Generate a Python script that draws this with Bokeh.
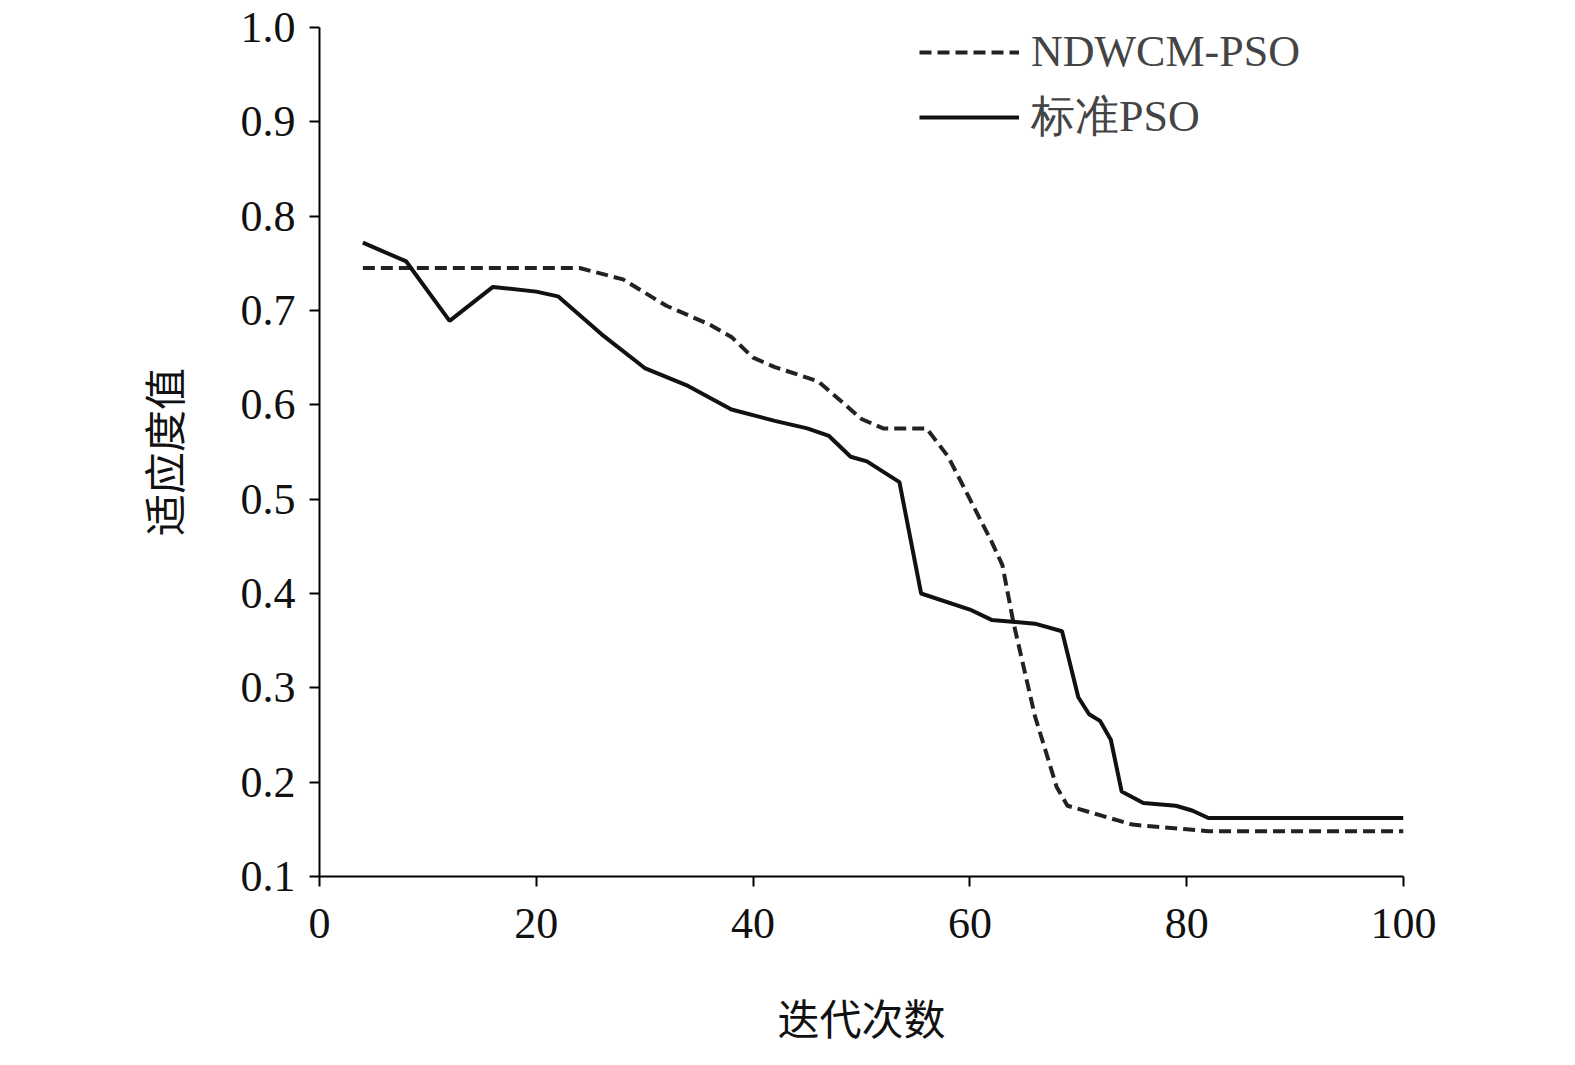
from bokeh.plotting import figure
from bokeh.embed import file_html
from bokeh.resources import INLINE
from bokeh.models import Range1d, FixedTicker, Legend, LegendItem

x_std = [4, 8, 12, 16, 20, 22, 26, 30, 34, 38, 42, 45, 47, 49, 50.5, 53.5, 55.5, 60, 62, 66, 68.5, 70, 71, 72, 73, 74, 76, 79, 80.5, 82, 100]
y_std = [0.772, 0.752, 0.689, 0.725, 0.72, 0.715, 0.675, 0.639, 0.62, 0.595, 0.583, 0.575, 0.567, 0.545, 0.54, 0.518, 0.40, 0.383, 0.372, 0.368, 0.36, 0.29, 0.272, 0.265, 0.245, 0.19, 0.178, 0.175, 0.17, 0.162, 0.162]
x_nd = [4, 24, 28, 32, 36, 38, 40, 42, 46, 50, 52, 56, 58, 60, 62, 63, 64, 66, 68, 69, 72, 75, 80, 82, 100]
y_nd = [0.745, 0.745, 0.733, 0.705, 0.685, 0.672, 0.65, 0.64, 0.625, 0.585, 0.575, 0.575, 0.545, 0.5, 0.455, 0.43, 0.37, 0.27, 0.195, 0.175, 0.165, 0.155, 0.15, 0.148, 0.148]
x_ticks = [0, 20, 40, 60, 80, 100]
y_ticks = [0.1, 0.2, 0.3, 0.4, 0.5, 0.6, 0.7, 0.8, 0.9, 1.0]

p = figure(width=1559, height=1049, output_backend="svg", toolbar_location=None,
           x_range=Range1d(0, 100), y_range=Range1d(0.1, 1.0),
           min_border_left=319, min_border_right=156, min_border_top=27, min_border_bottom=149)
p.outline_line_color = None
p.grid.grid_line_color = None
p.background_fill_color = "white"

l1 = p.line(x_nd, y_nd, line_color="#222222", line_width=4, line_dash="12 6")
l2 = p.line(x_std, y_std, line_color="#111111", line_width=4)

for ax in (p.xaxis[0], p.yaxis[0]):
    ax.major_label_text_font = "Liberation Serif"
    ax.major_label_text_font_size = "44px"
    ax.major_label_text_color = "#111111"
    ax.axis_line_width = 2
    ax.major_tick_line_width = 2
    ax.major_tick_out = 10
    ax.major_tick_in = 0
    ax.minor_tick_line_color = None
    ax.axis_label_text_font = "Noto Sans CJK SC"
    ax.axis_label_text_font_size = "42px"
    ax.axis_label_text_font_style = "normal"
    ax.axis_label_text_color = "#111111"
p.xaxis.major_label_standoff = 22
p.yaxis.major_label_standoff = 14
p.xaxis.ticker = FixedTicker(ticks=x_ticks)
p.yaxis.ticker = FixedTicker(ticks=y_ticks)
p.yaxis.major_label_overrides = {0.1: "0.1", 0.2: "0.2", 0.3: "0.3", 0.4: "0.4", 0.5: "0.5", 0.6: "0.6", 0.7: "0.7", 0.8: "0.8", 0.9: "0.9", 1.0: "1.0"}
p.xaxis.axis_label = "迭代次数"
p.yaxis.axis_label = "适应度值"
p.xaxis.axis_label_standoff = 45
p.yaxis.axis_label_standoff = 45

leg = Legend(items=[LegendItem(label="NDWCM-PSO", renderers=[l1]),
                    LegendItem(label="标准PSO", renderers=[l2])],
             location="top_right", border_line_color=None, background_fill_alpha=0,
             label_text_font="Liberation Serif", label_text_font_size="44px",
             glyph_width=100, label_standoff=12, spacing=10, margin=30, padding=0)
leg.location = (600, 730)
p.add_layout(leg)

open("out.html", "w").write(file_html(p, INLINE))
